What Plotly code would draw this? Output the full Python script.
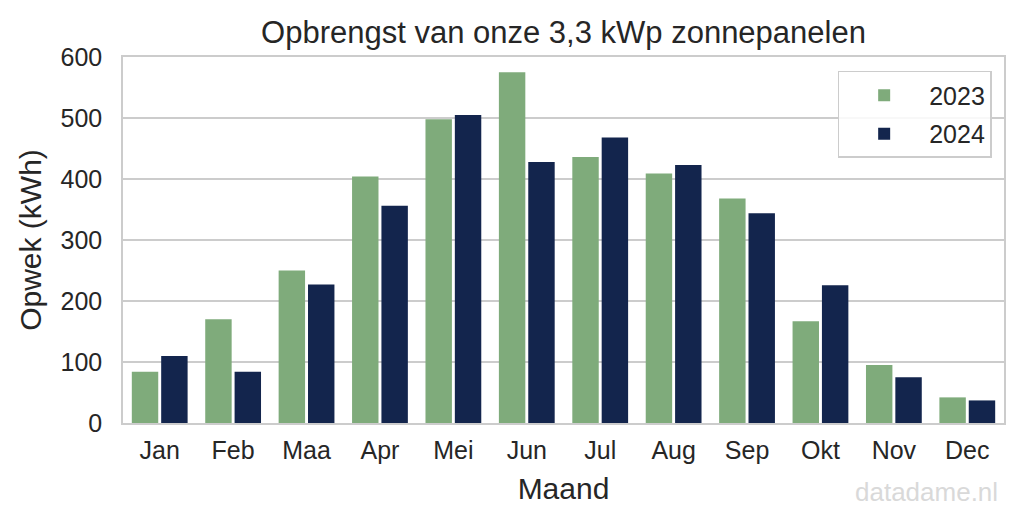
import plotly.graph_objects as go

maanden = ["Jan", "Feb", "Maa", "Apr", "Mei", "Jun", "Jul", "Aug", "Sep", "Okt", "Nov", "Dec"]
opwek_2023 = [84, 170, 250, 404, 498, 575, 436, 409, 368, 167, 95, 42]
opwek_2024 = [110, 84, 227, 356, 505, 428, 468, 423, 344, 226, 75, 37]

groen = "#7fab7b"
navy = "#13254d"
grijs = "#cccccc"
font = "Liberation Sans, Arial, sans-serif"

fig = go.Figure()
fig.add_trace(go.Bar(x=maanden, y=opwek_2023, name="2023", marker_color=groen,
                     marker_line_width=0, legendgroup="a"))
fig.add_trace(go.Bar(x=maanden, y=opwek_2024, name="2024", marker_color=navy,
                     marker_line_width=0, legendgroup="b"))

# pagina heeft 8px body-marge, dus figuur iets kleiner
fig.update_layout(
    width=1016, height=519,
    margin=dict(l=115, r=20, t=49, b=104),
    paper_bgcolor="white", plot_bgcolor="white",
    font=dict(family=font, color="#262626", size=25),
    barmode="group", bargap=0.2, bargroupgap=0.1,
    title=dict(text="Opbrengst van onze 3,3 kWp zonnepanelen", x=0.5, xref="paper",
               y=0.954, yref="container", yanchor="middle",
               font=dict(size=31, color="#262626")),
    legend=dict(x=0.986, y=0.962, xanchor="right", yanchor="top",
                bgcolor="rgba(255,255,255,0.85)", bordercolor=grijs, borderwidth=1.5,
                font=dict(size=25), itemwidth=80, tracegroupgap=3),
    showlegend=True,
)
fig.update_xaxes(title=dict(text="Maand", font=dict(size=30), standoff=15),
                 showline=True, linecolor=grijs, linewidth=1.5, mirror=True,
                 showgrid=False, ticks="", ticklabelstandoff=4, automargin=False)
fig.update_yaxes(title=dict(text="Opwek (kWh)", font=dict(size=30), standoff=10),
                 range=[0, 600], dtick=100, showline=True, linecolor=grijs,
                 linewidth=1.5, mirror=True, showgrid=True, gridcolor=grijs,
                 gridwidth=1.5, zeroline=False, ticks="", ticklabelstandoff=14,
                 automargin=False)

fig.add_annotation(text="datadame.nl", xref="paper", yref="paper", x=0.9955, y=-0.189,
                   xanchor="right", yanchor="middle", showarrow=False,
                   font=dict(size=26, color="#d9d9d9"))

fig.write_html("out.html")
